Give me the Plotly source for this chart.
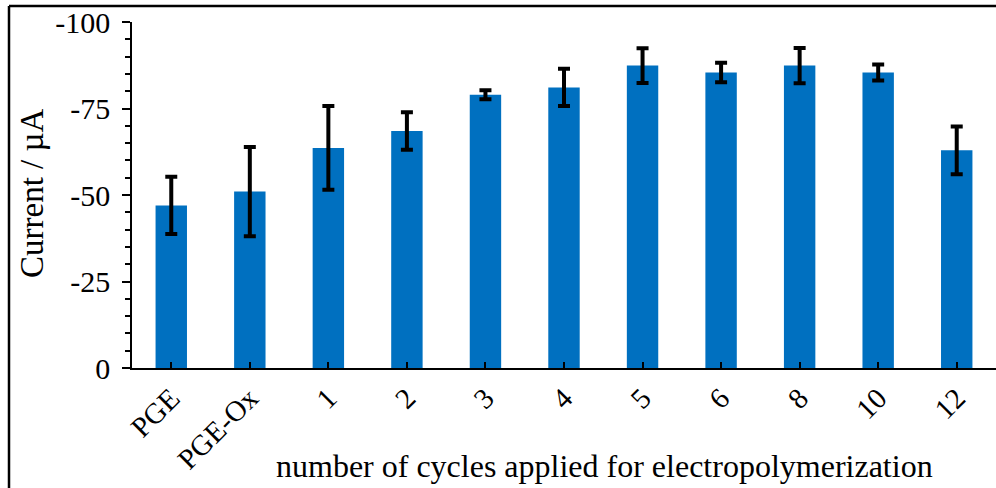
import plotly.graph_objects as go

categories = ["PGE", "PGE-Ox", "1", "2", "3", "4", "5", "6", "8", "10", "12"]
current = [-47.0, -51.0, -63.6, -68.5, -79.0, -81.1, -87.4, -85.4, -87.4, -85.4, -62.9]
error = [8.3, 12.9, 12.1, 5.4, 1.3, 5.4, 5.0, 2.8, 5.1, 2.3, 6.9]

font_family = "Liberation Serif, Times New Roman, serif"

fig = go.Figure(
    go.Bar(
        x=categories,
        y=current,
        width=0.4,
        marker=dict(color="#0070C0", line=dict(width=0)),
        error_y=dict(type="data", array=error, visible=True,
                     color="black", thickness=4, width=6),
    )
)

fig.update_layout(
    width=996, height=488,
    margin=dict(l=132, r=0, t=22, b=120),
    paper_bgcolor="white", plot_bgcolor="white",
    showlegend=False,
    font=dict(family=font_family, color="black"),
    xaxis=dict(
        type="category",
        range=[-0.5, 10.5],
        showline=True, linecolor="black", linewidth=1.5,
        ticks="inside", ticklen=6, tickwidth=1.5, tickcolor="black",
        tickangle=-45,
        tickfont=dict(size=29, family=font_family),
        showgrid=False, zeroline=False,
    ),
    yaxis=dict(
        range=[0, -100],
        tickvals=[0, -25, -50, -75, -100],
        ticktext=["0", "-25", "-50", "-75", "-100"],
        showline=True, linecolor="black", linewidth=1.5,
        ticks="outside", ticklen=8, tickwidth=1.5, tickcolor="black",
        minor=dict(dtick=5, ticks="outside", ticklen=5, tickwidth=1.5, tickcolor="black"),
        tickfont=dict(size=30, family=font_family),
        ticklabelstandoff=6,
        showgrid=False, zeroline=False,
    ),
    annotations=[
        dict(text="number of cycles applied for electropolymerization",
             xref="paper", yref="paper", x=(604 - 132) / 864, y=(368 - 466) / 346,
             xanchor="center", yanchor="middle", showarrow=False,
             font=dict(size=32, family=font_family, color="black")),
        dict(text="Current / µA",
             xref="paper", yref="paper", x=(32 - 132) / 864, y=(368 - 194) / 346,
             xanchor="center", yanchor="middle", showarrow=False, textangle=-90,
             font=dict(size=33, family=font_family, color="black")),
    ],
    shapes=[
        dict(type="line", xref="paper", yref="paper",
             x0=(9 - 132) / 864, x1=(9 - 132) / 864, y0=(368 - 490) / 346, y1=(368 - 6) / 346,
             line=dict(color="black", width=2.5)),
        dict(type="line", xref="paper", yref="paper",
             x0=(9 - 132) / 864, x1=1.01, y0=(368 - 6) / 346, y1=(368 - 6) / 346,
             line=dict(color="black", width=2.5)),
    ],
)

fig.write_html("out.html")
